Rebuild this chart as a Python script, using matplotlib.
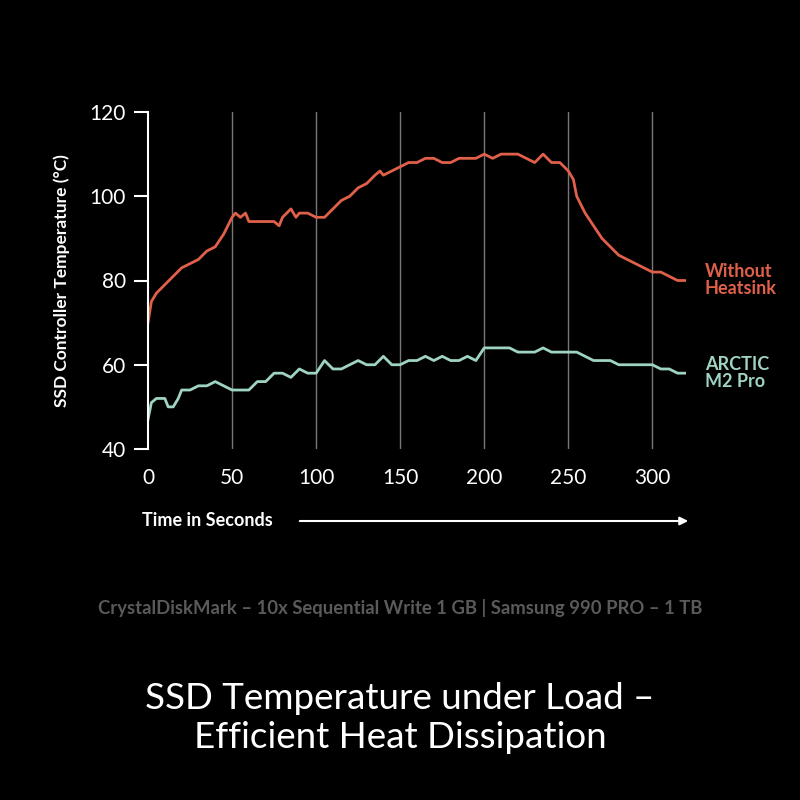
import matplotlib
matplotlib.use("Agg")
import matplotlib.pyplot as plt

plt.rcParams["font.family"] = "Lato"

time_red = [0,2,5,10,15,20,25,30,35,40,45,50,52,55,58,60,65,70,75,78,80,85,88,90,95,100,105,110,115,120,125,130,135,138,140,145,150,155,160,165,170,175,180,185,190,195,200,205,210,215,220,225,230,235,240,245,250,253,255,260,265,270,275,280,285,290,295,300,305,310,315,320]
temp_red = [70,75,77,79,81,83,84,85,87,88,91,95,96,95,96,94,94,94,94,93,95,97,95,96,96,95,95,97,99,100,102,103,105,106,105,106,107,108,108,109,109,108,108,109,109,109,110,109,110,110,110,109,108,110,108,108,106,104,100,96,93,90,88,86,85,84,83,82,82,81,80,80]
time_teal = [0,2,5,10,12,15,18,20,25,30,35,40,45,50,55,60,65,70,75,80,85,90,95,100,105,110,115,120,125,130,135,140,145,150,155,160,165,170,175,180,185,190,195,200,205,210,215,220,225,230,235,240,245,250,255,260,265,270,275,280,285,290,295,300,305,310,315,320]
temp_teal = [47,51,52,52,50,50,52,54,54,55,55,56,55,54,54,54,56,56,58,58,57,59,58,58,61,59,59,60,61,60,60,62,60,60,61,61,62,61,62,61,61,62,61,64,64,64,64,63,63,63,64,63,63,63,63,62,61,61,61,60,60,60,60,60,59,59,58,58]
xticks = [0,50,100,150,200,250,300]
yticks = [40,60,80,100,120]

RED = "#e0604a"
TEAL = "#9fd3c4"

fig = plt.figure(figsize=(8,8), dpi=100, facecolor="black")
ax = fig.add_axes([148/800, 1-449/800, (686-148)/800, (449-112)/800])
ax.set_facecolor("black")
ax.set_xlim(0, 320)
ax.set_ylim(40, 120)
for x in xticks[1:]:
    ax.axvline(x, color="#777777", lw=1)
ax.plot(time_red, temp_red, color=RED, lw=2)
ax.plot(time_teal, temp_teal, color=TEAL, lw=2)
for s in ["top","right","bottom"]:
    ax.spines[s].set_visible(False)
ax.spines["left"].set_color("white")
ax.spines["left"].set_linewidth(1.5)
ax.set_xticks(xticks)
ax.set_yticks(yticks)
ax.tick_params(axis="x", length=0, colors="white", labelsize=15, pad=14)
ax.tick_params(axis="y", length=10, width=1.5, colors="white", labelsize=15, pad=6, direction="out")
ax.set_ylabel("SSD Controller Temperature (°C)", color="white", fontsize=12.5, fontweight="bold", labelpad=14)

fig.text(705/800, 1-280/800, "Without\nHeatsink", color=RED, fontsize=13, fontweight="bold", va="center", linespacing=1.0)
fig.text(705/800, 1-373/800, "ARCTIC\nM2 Pro", color=TEAL, fontsize=13, fontweight="bold", va="center", linespacing=1.0)
fig.text(142/800, 1-520/800, "Time in Seconds", color="white", fontsize=13, fontweight="bold", va="center")
fig.add_artist(matplotlib.patches.FancyArrowPatch((297/800, 1-521/800), (691/800, 1-521/800),
    transform=fig.transFigure, arrowstyle="-|>", mutation_scale=12, color="white", lw=1.5))
fig.text(0.5, 1-608/800, "CrystalDiskMark – 10x Sequential Write 1 GB | Samsung 990 PRO – 1 TB",
         color="#5a5a5a", fontsize=13.3, fontweight="bold", ha="center", va="center")
fig.text(0.5, 1-718/800, "SSD Temperature under Load –\nEfficient Heat Dissipation",
         color="white", fontsize=26.5, ha="center", va="center", linespacing=1.25)
fig.savefig("out.png", facecolor="black")
